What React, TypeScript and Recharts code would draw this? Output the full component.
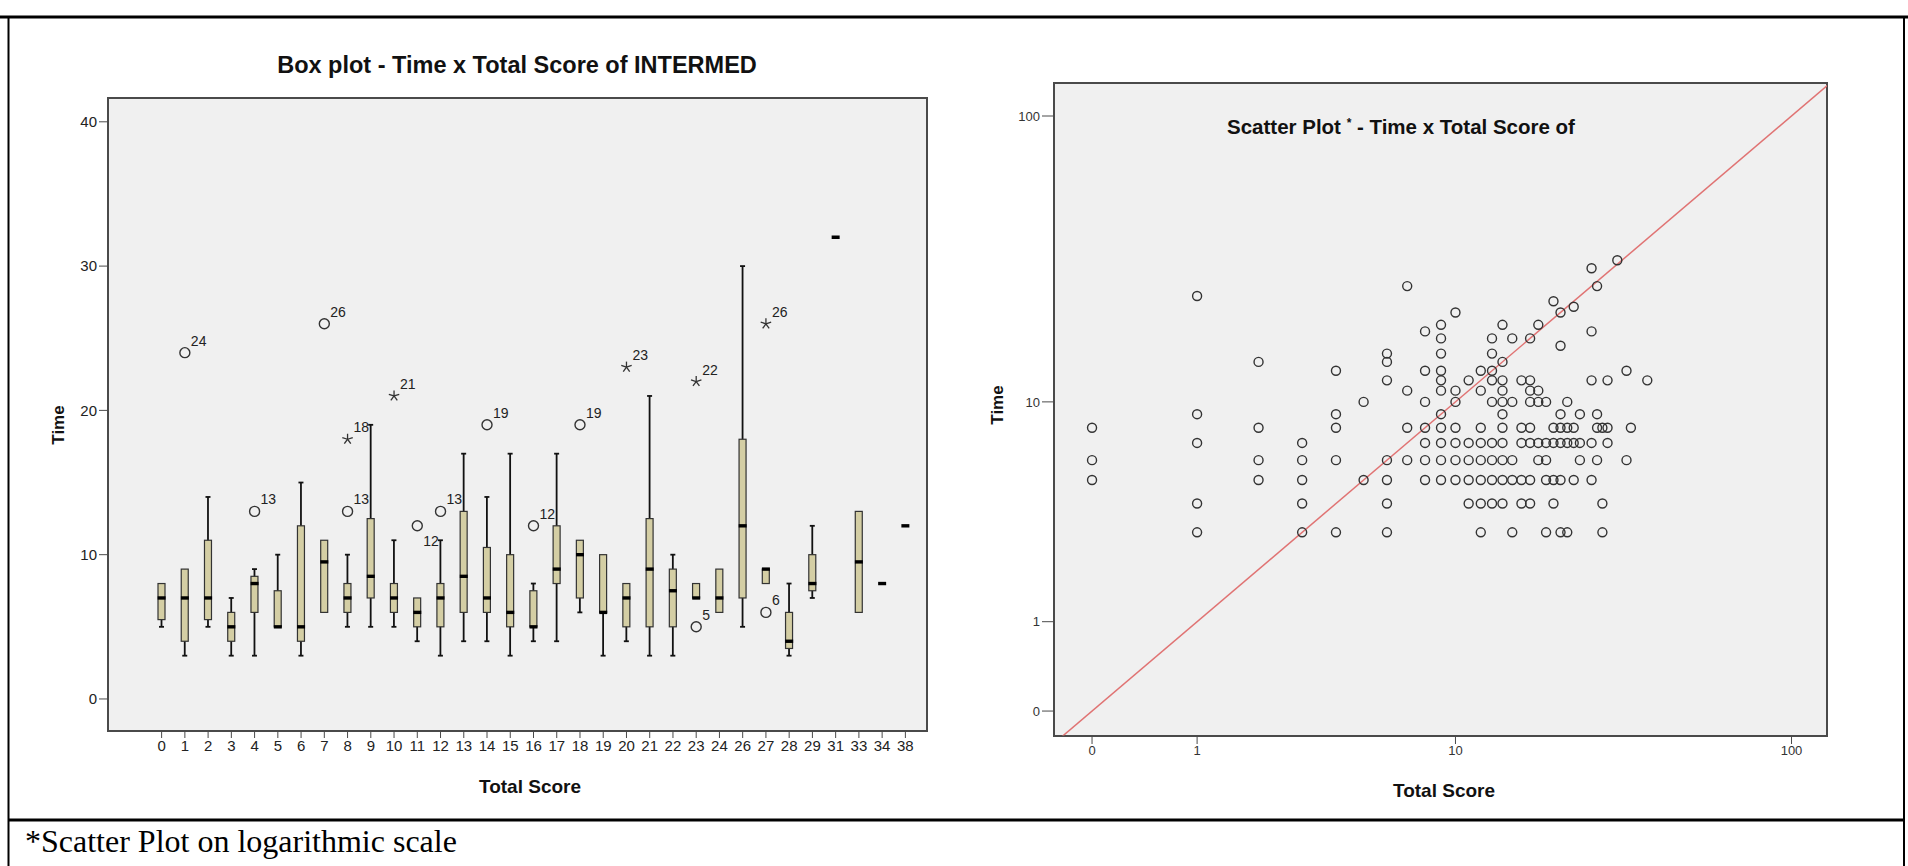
import React from 'react'
import {
  ComposedChart,
  Bar,
  Scatter,
  XAxis,
  YAxis,
  ReferenceArea,
  ReferenceLine,
} from 'recharts'

// Box plot: Time by Total Score
const scoreCats = ['0', '1', '2', '3', '4', '5', '6', '7', '8', '9', '10', '11', '12', '13', '14', '15', '16', '17', '18', '19', '20', '21', '22', '23', '24', '26', '27', '28', '29', '31', '33', '34', '38']
const timeMin = [5, 3, 5, 3, 3, 5, 3, 6, 5, 5, 5, 4, 3, 4, 4, 3, 4, 4, 6, 3, 4, 3, 3, 7, 6, 5, 8, 3, 7, 32, 6, 8, 12]
const timeQ1 = [5.5, 4, 5.5, 4, 6, 5, 4, 6, 6, 7, 6, 5, 5, 6, 6, 5, 5, 8, 7, 6, 5, 5, 5, 7, 6, 7, 8, 3.5, 7.5, 32, 6, 8, 12]
const timeMedian = [7, 7, 7, 5, 8, 5, 5, 9.5, 7, 8.5, 7, 6, 7, 8.5, 7, 6, 5, 9, 10, 6, 7, 9, 7.5, 7, 7, 12, 9, 4, 8, 32, 9.5, 8, 12]
const timeQ3 = [8, 9, 11, 6, 8.5, 7.5, 12, 11, 8, 12.5, 8, 7, 8, 13, 10.5, 10, 7.5, 12, 11, 10, 8, 12.5, 9, 8, 9, 18, 9, 6, 10, 32, 13, 8, 12]
const timeMax = [8, 9, 14, 7, 9, 10, 15, 11, 10, 19, 11, 7, 11, 17, 14, 17, 8, 17, 11, 10, 8, 21, 10, 8, 9, 30, 9, 8, 12, 32, 13, 8, 12]
const boxTicks = [0, 10, 20, 30, 40]

// outliers (o) and extremes (*), labelled with case number
const circleCats = ['1', '4', '7', '8', '11', '12', '14', '16', '18', '23', '27']
const circleTimes = [24, 13, 26, 13, 12, 13, 19, 12, 19, 5, 6]
const circleCases = ['24', '13', '26', '13', '12', '13', '19', '12', '19', '5', '6']
const starCats = ['8', '10', '20', '23', '27']
const starTimes = [18, 21, 23, 22, 26]
const starCases = ['18', '21', '23', '22', '26']

// Scatter plot: distinct (score, time) pairs
const scatterScores = [0, 1, 2, 3, 4, 5, 6, 7, 8, 9, 10, 11, 12, 13, 14, 15, 16, 17, 18, 19, 20, 21, 22, 23, 24, 26, 27, 28, 29, 31, 33, 34, 38]
const scatterTimes = [
  [8, 6, 5],
  [24, 9, 7, 4, 3],
  [14, 8, 6, 5],
  [7, 6, 5, 4, 3],
  [13, 9, 8, 6, 3],
  [10, 5],
  [15, 14, 12, 6, 5, 4, 3],
  [26, 11, 8, 6],
  [18, 13, 10, 8, 7, 6, 5],
  [19, 17, 15, 13, 12, 11, 9, 8, 7, 6, 5],
  [21, 11, 10, 8, 7, 6, 5],
  [12, 7, 6, 5, 4],
  [13, 11, 8, 7, 6, 5, 4, 3],
  [17, 15, 13, 12, 10, 7, 6, 5, 4],
  [19, 14, 12, 11, 10, 9, 8, 7, 6, 5, 4],
  [17, 10, 6, 5, 3],
  [12, 8, 7, 5, 4],
  [17, 12, 11, 10, 8, 7, 5, 4],
  [19, 11, 10, 7, 6],
  [10, 7, 6, 5, 3],
  [23, 8, 7, 5, 4],
  [21, 16, 9, 8, 7, 5, 3],
  [10, 8, 7, 3],
  [22, 8, 7, 5],
  [9, 7, 6],
  [30, 18, 12, 7, 5],
  [26, 9, 8, 6],
  [8, 4, 3],
  [12, 8, 7],
  [32],
  [13, 6],
  [8],
  [12],
]
const logTickLabels = [0, 1, 10, 100]

const FONT = '"Liberation Sans", Arial, sans-serif'
const INK = '#222'
const FRAME = '#4a4a4a'

const boxRows = scoreCats.map((cat, i) => ({
  cat,
  whisker: [timeMin[i], timeMax[i]],
  box: [timeQ1[i], timeQ3[i]],
  median: timeMedian[i],
  min: timeMin[i],
  q1: timeQ1[i],
  q3: timeQ3[i],
  max: timeMax[i],
}))
const circleRows = circleCats.map((cat, i) => ({ cat, time: circleTimes[i], caseNo: circleCases[i] }))
const starRows = starCats.map((cat, i) => ({ cat, time: starTimes[i], caseNo: starCases[i] }))

// log(x + 1) positions, plotted on linear axes
const toLog = (v: number) => Math.log10(v + 1)
const scatterPoints = scatterScores.flatMap((s, i) =>
  scatterTimes[i].map((t) => ({ x: toLog(s), y: toLog(t) }))
)
const logTicks = logTickLabels.map(toLog)
const fmtLog = (v: number) => String(Math.round(Math.pow(10, v) - 1))

const labelBelow = new Set(['11'])

function WhiskerShape(props: any) {
  const { x, y, width, height, payload } = props
  if (payload.min === payload.q1 && payload.max === payload.q3) return null
  const cx = x + width / 2
  const top = Math.min(y, y + height)
  const bottom = Math.max(y, y + height)
  return (
    <g>
      <line x1={cx} x2={cx} y1={top} y2={bottom} stroke="#111" strokeWidth={1.8} />
      {payload.max > payload.q3 && <line x1={cx - 2.5} x2={cx + 2.5} y1={top} y2={top} stroke="#111" strokeWidth={1.8} />}
      {payload.min < payload.q1 && <line x1={cx - 2.5} x2={cx + 2.5} y1={bottom} y2={bottom} stroke="#111" strokeWidth={1.8} />}
    </g>
  )
}

function BoxShape(props: any) {
  const { x, y, width, height, payload } = props
  if (payload.q1 === payload.q3) return null
  const top = Math.min(y, y + height)
  return <rect x={x} y={top} width={width} height={Math.abs(height)} fill="#d4cea4" stroke="#333" strokeWidth={1.2} />
}

function MedianShape(props: any) {
  const { cx, cy } = props
  return <line x1={cx - 4} x2={cx + 4} y1={cy} y2={cy} stroke="#000" strokeWidth={3.4} />
}

function CircleShape(props: any) {
  const { cx, cy, payload } = props
  const below = labelBelow.has(payload.cat)
  return (
    <g>
      <circle cx={cx} cy={cy} r={5} fill="none" stroke="#333" strokeWidth={1.4} />
      <text x={cx + 6} y={below ? cy + 20 : cy - 7} fontSize={14} fill={INK}>{payload.caseNo}</text>
    </g>
  )
}

function StarShape(props: any) {
  const { cx, cy, payload } = props
  const arms = [0, 1, 2, 3, 4].map((k) => {
    const a = (-90 + 72 * k) * Math.PI / 180
    return <line key={k} x1={cx} y1={cy} x2={cx + 5.5 * Math.cos(a)} y2={cy + 5.5 * Math.sin(a)} stroke="#333" strokeWidth={1.3} />
  })
  return (
    <g>
      {arms}
      <text x={cx + 6} y={cy - 7} fontSize={14} fill={INK}>{payload.caseNo}</text>
    </g>
  )
}

function RingShape(props: any) {
  const { cx, cy } = props
  return <circle cx={cx} cy={cy} r={4.5} fill="none" stroke="#333" strokeWidth={1.4} />
}

const BOX_DOMAIN = [-2.22, 41.65]

function BoxPlot() {
  const pad = { left: 42, right: 10 }
  return (
    <ComposedChart width={960} height={818} data={boxRows} margin={{ top: 98, right: 33, bottom: 57, left: 48 }}>
      <XAxis xAxisId="box" dataKey="cat" type="category" allowDuplicatedCategory={false} padding={pad} interval={0}
        tickSize={7} stroke={FRAME} tick={{ fontSize: 15, fill: INK }} height={30} />
      <XAxis xAxisId="whisker" dataKey="cat" type="category" allowDuplicatedCategory={false} padding={pad} hide />
      <XAxis xAxisId="frame" dataKey="min" type="number" domain={[0, 1]} allowDataOverflow hide />
      <YAxis domain={BOX_DOMAIN} ticks={boxTicks} allowDataOverflow width={60} tickSize={9} stroke={FRAME}
        tick={{ fontSize: 15, fill: INK }} />
      <ReferenceArea xAxisId="frame" x1={0} x2={1} y1={BOX_DOMAIN[0]} y2={BOX_DOMAIN[1]} fill="#f0f0f0" fillOpacity={1}
        stroke={FRAME} strokeWidth={2} ifOverflow="visible" />
      <Bar xAxisId="whisker" dataKey="whisker" barSize={7} shape={WhiskerShape} isAnimationActive={false} />
      <Bar xAxisId="box" dataKey="box" barSize={7} shape={BoxShape} isAnimationActive={false} />
      <Scatter xAxisId="box" dataKey="median" shape={MedianShape} isAnimationActive={false} />
      <Scatter xAxisId="box" data={circleRows} dataKey="time" shape={CircleShape} isAnimationActive={false} />
      <Scatter xAxisId="box" data={starRows} dataKey="time" shape={StarShape} isAnimationActive={false} />
    </ComposedChart>
  )
}

const SC_X = [-0.109, 2.106]
const SC_Y = [-0.084, 2.1155]

function ScatterPlot() {
  return (
    <ComposedChart width={948} height={818} margin={{ top: 83, right: 81, bottom: 52, left: 34 }}>
      <XAxis type="number" dataKey="x" domain={SC_X} ticks={logTicks} tickFormatter={fmtLog}
        allowDataOverflow tickSize={8} stroke={FRAME} tick={{ fontSize: 13, fill: '#333' }} height={30} />
      <YAxis type="number" dataKey="y" domain={SC_Y} ticks={logTicks} tickFormatter={fmtLog}
        allowDataOverflow width={60} tickSize={12} stroke={FRAME} tick={{ fontSize: 13, fill: '#333' }} />
      <ReferenceArea x1={SC_X[0]} x2={SC_X[1]} y1={SC_Y[0]} y2={SC_Y[1]} fill="#f0f0f0" fillOpacity={1} stroke={FRAME} strokeWidth={2} />
      <ReferenceLine segment={[{ x: -0.3, y: -0.3 }, { x: 2.3, y: 2.3 }]} stroke="#e07373" strokeWidth={1.5} ifOverflow="hidden" />
      <Scatter data={scatterPoints} shape={RingShape} isAnimationActive={false} />
    </ComposedChart>
  )
}

export default function App() {
  return (
    <div style={{ position: 'absolute', left: 0, top: 0, width: 1908, height: 866, background: '#fff', overflow: 'hidden', fontFamily: FONT }}>
      <div style={{ position: 'absolute', left: 0, top: 0 }}>
        <BoxPlot />
      </div>
      <div style={{ position: 'absolute', left: 960, top: 0 }}>
        <ScatterPlot />
      </div>
      <svg width={1908} height={866} style={{ position: 'absolute', left: 0, top: 0, pointerEvents: 'none' }}>
        <line x1={0} x2={1908} y1={17} y2={17} stroke="#000" strokeWidth={3} />
        <line x1={8.5} x2={8.5} y1={17} y2={866} stroke="#000" strokeWidth={2} />
        <line x1={1904} x2={1904} y1={17} y2={866} stroke="#000" strokeWidth={2} />
        <line x1={8} x2={1905} y1={820} y2={820} stroke="#000" strokeWidth={3} />
        <text x={517} y={73} textAnchor="middle" fontSize={23.5} fontWeight="bold" fill="#111">Box plot - Time x Total Score of INTERMED</text>
        <text x={64} y={425} textAnchor="middle" fontSize={17} fontWeight="bold" fill="#111" transform="rotate(-90 64 425)">Time</text>
        <text x={530} y={793} textAnchor="middle" fontSize={19} fontWeight="bold" fill="#111">Total Score</text>
        <text x={1227} y={134} fontSize={20.5} fontWeight="bold" fill="#111">
          Scatter Plot <tspan fontSize={12} dy={-7}>*</tspan><tspan dy={7}> - Time x Total Score of</tspan>
        </text>
        <text x={1003} y={405} textAnchor="middle" fontSize={17} fontWeight="bold" fill="#111" transform="rotate(-90 1003 405)">Time</text>
        <text x={1444} y={797} textAnchor="middle" fontSize={19} fontWeight="bold" fill="#111">Total Score</text>
        <text x={25} y={852} fontSize={32} fontFamily='"Liberation Serif", "Times New Roman", serif' fill="#000">*Scatter Plot on logarithmic scale</text>
      </svg>
    </div>
  )
}
